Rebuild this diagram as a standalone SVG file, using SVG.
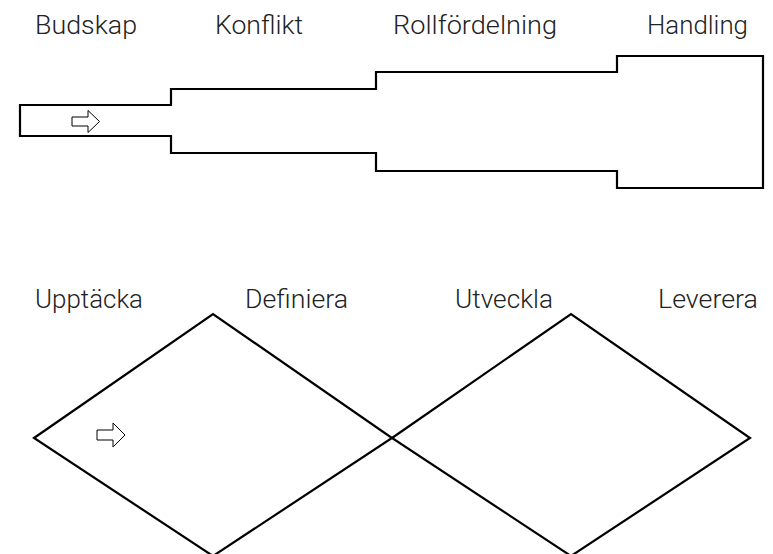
<svg xmlns="http://www.w3.org/2000/svg" width="773" height="554" viewBox="0 0 773 554">
<style>
.lbl{font-family:Roboto,"Liberation Sans",Arial,sans-serif;font-weight:300;font-size:25px;fill:#222}
.shape{fill:none;stroke:#000;stroke-width:2.2;stroke-linejoin:miter}
.arrow{fill:#fff;stroke:#000;stroke-width:1}
</style>
<rect width="773" height="554" fill="#fff"/>
<g id="labels-top">
<text class="lbl" x="35" y="34" textLength="102" lengthAdjust="spacingAndGlyphs">Budskap</text>
<text class="lbl" x="215" y="34" textLength="88" lengthAdjust="spacingAndGlyphs">Konflikt</text>
<text class="lbl" x="393" y="34" textLength="164" lengthAdjust="spacingAndGlyphs">Rollfördelning</text>
<text class="lbl" x="647" y="34" textLength="101" lengthAdjust="spacingAndGlyphs">Handling</text>
</g>
<g id="funnel">
<path class="shape" d="M20,105 H171 V89 H376 V72 H617 V56 H763 V188 H617 V171 H376 V153 H171 V136 H20 Z"/>
<path class="arrow" d="M72,117 H88 V110.5 L99.5,121.5 L88,132.5 V126 H72 Z"/>
</g>
<g id="labels-bottom">
<text class="lbl" x="35" y="308" textLength="108" lengthAdjust="spacingAndGlyphs">Upptäcka</text>
<text class="lbl" x="245" y="308" textLength="103" lengthAdjust="spacingAndGlyphs">Definiera</text>
<text class="lbl" x="455" y="308" textLength="98" lengthAdjust="spacingAndGlyphs">Utveckla</text>
<text class="lbl" x="658" y="308" textLength="100" lengthAdjust="spacingAndGlyphs">Leverera</text>
</g>
<g id="diamond-1">
<path class="shape" d="M34,438 L213,314 L392,438 L213,556 Z"/>
<path class="arrow" d="M97,430 H113 V423 L125,435 L113,447 V440 H97 Z"/>
</g>
<g id="diamond-2">
<path class="shape" d="M392,438 L571,314 L750,438 L571,556 Z"/>
</g>
</svg>
